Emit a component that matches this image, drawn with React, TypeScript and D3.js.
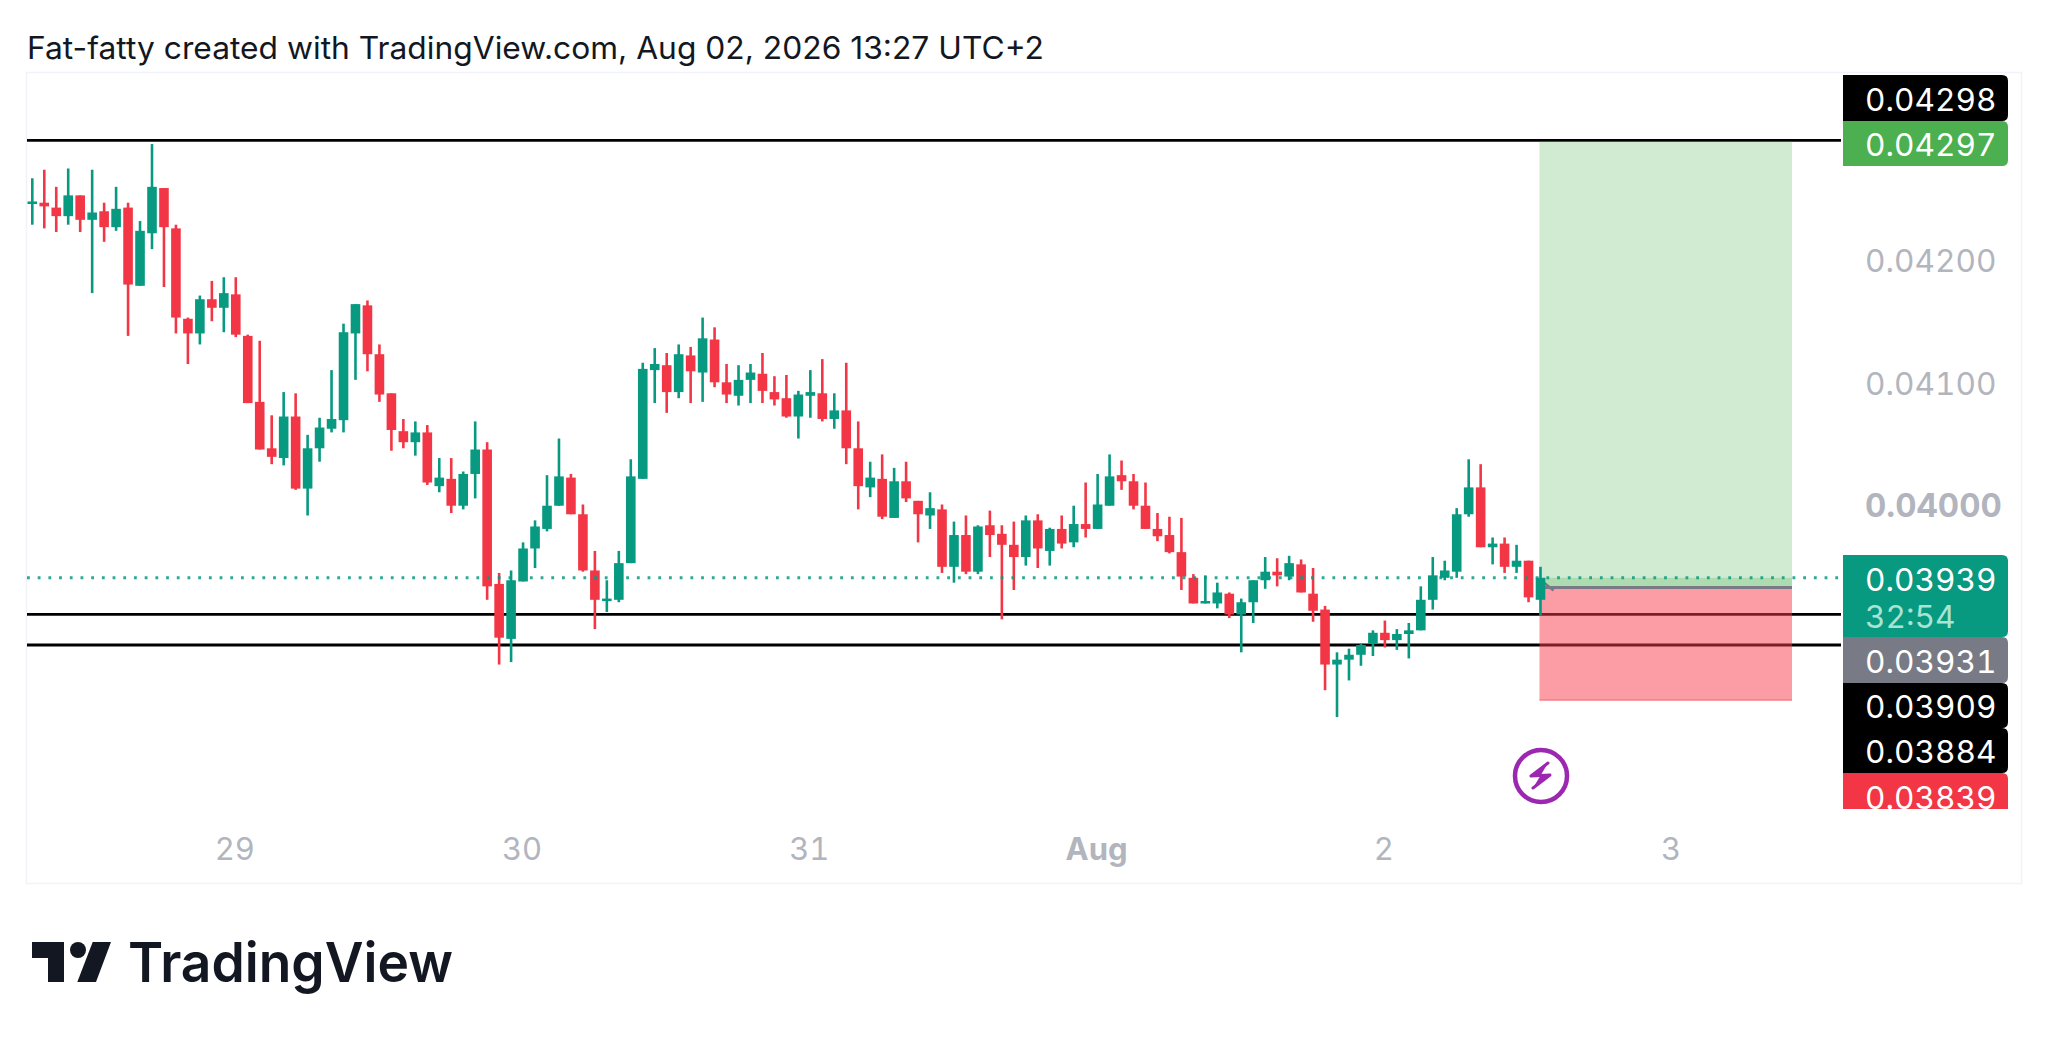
import { useMemo } from 'react';
import * as d3 from 'd3';

// all prices in 0.00001 units, one candle per hour
const opens = [
  4246, 4246, 4242, 4235, 4252, 4232, 4239, 4226, 4242, 4178, 4221, 4258, 4225, 4151, 4139, 4167, 4160, 4171, 4137, 4083,
  4045, 4037, 4071, 4012, 4045, 4061, 4068, 4139, 4162, 4122, 4090, 4059, 4050, 4058, 4014, 4020, 3998, 4024, 4044, 3934,
  3889, 3936, 3963, 3979, 3998, 4021, 3991, 3945, 3921, 3921, 3951, 4020, 4109, 4113, 4091, 4121, 4107, 4134, 4099, 4088,
  4101, 4106, 4091, 4086, 4071, 4088, 4090, 4069, 4076, 4045, 4013, 4020, 3988, 4018, 4002, 3990, 3995, 3948, 3974, 3944,
  3982, 3975, 3966, 3956, 3986, 3961, 3979, 3968, 3983, 3979, 3998, 4023, 4018, 3998, 3979, 3974, 3960, 3939, 3918, 3918,
  3926, 3909, 3919, 3937, 3944, 3940, 3950, 3926, 3913, 3868, 3872, 3876, 3885, 3894, 3888, 3893, 3896, 3921, 3939, 3944,
  3991, 4013, 3964, 3967, 3948, 3953, 3921,
];
const closes = [
  4247, 4243, 4235, 4252, 4232, 4238, 4226, 4241, 4179, 4223, 4259, 4226, 4152, 4139, 4167, 4160, 4172, 4138, 4082, 4044,
  4038, 4071, 4012, 4045, 4062, 4069, 4140, 4163, 4122, 4089, 4060, 4050, 4058, 4017, 4021, 3998, 4024, 4044, 3932, 3890,
  3937, 3963, 3981, 3998, 4022, 3991, 3945, 3921, 3922, 3951, 4022, 4110, 4114, 4091, 4122, 4108, 4135, 4099, 4089, 4101,
  4107, 4092, 4085, 4071, 4089, 4091, 4069, 4076, 4045, 4014, 4021, 3989, 4018, 4004, 3991, 3996, 3948, 3974, 3944, 3981,
  3974, 3966, 3956, 3986, 3963, 3979, 3967, 3983, 3979, 3999, 4022, 4018, 3998, 3979, 3973, 3960, 3940, 3918, 3920, 3927,
  3909, 3919, 3937, 3944, 3941, 3951, 3927, 3912, 3868, 3872, 3876, 3884, 3894, 3888, 3893, 3896, 3921, 3941, 3945, 3991,
  4013, 3964, 3967, 3948, 3953, 3923, 3939,
];
const highs = [
  4266, 4273, 4259, 4274, 4252, 4273, 4246, 4259, 4246, 4231, 4294, 4258, 4228, 4152, 4170, 4182, 4185, 4185, 4138, 4133,
  4072, 4091, 4090, 4056, 4070, 4109, 4147, 4163, 4166, 4130, 4090, 4069, 4067, 4064, 4037, 4037, 4026, 4067, 4050, 3943,
  3945, 3968, 3986, 4023, 4053, 4024, 3999, 3961, 3937, 3961, 4036, 4115, 4127, 4123, 4130, 4128, 4152, 4144, 4114, 4113,
  4114, 4123, 4104, 4105, 4092, 4109, 4118, 4090, 4115, 4067, 4034, 4040, 4029, 4034, 4002, 4009, 3999, 3985, 3990, 3982,
  3994, 3982, 3985, 3990, 3991, 3980, 3990, 3998, 4017, 4024, 4040, 4035, 4024, 4017, 3992, 3989, 3988, 3942, 3941, 3935,
  3927, 3922, 3937, 3956, 3955, 3957, 3954, 3947, 3916, 3878, 3881, 3885, 3896, 3904, 3897, 3902, 3932, 3956, 3953, 3996,
  4036, 4032, 3972, 3972, 3966, 3953, 3948,
];
const lows = [
  4228, 4225, 4222, 4228, 4222, 4172, 4214, 4223, 4137, 4178, 4208, 4177, 4139, 4114, 4130, 4149, 4140, 4136, 4082, 4044,
  4032, 4031, 4011, 3990, 4034, 4058, 4058, 4101, 4108, 4083, 4043, 4045, 4039, 4015, 4009, 3992, 3995, 4004, 3921, 3868,
  3870, 3936, 3947, 3977, 3998, 3991, 3944, 3897, 3911, 3919, 3951, 4020, 4082, 4074, 4086, 4082, 4083, 4095, 4082, 4080,
  4082, 4082, 4080, 4070, 4053, 4070, 4067, 4061, 4032, 3995, 4005, 3987, 3988, 4001, 3968, 3979, 3943, 3935, 3942, 3942,
  3956, 3905, 3929, 3949, 3947, 3949, 3963, 3964, 3972, 3979, 3998, 4011, 3995, 3979, 3969, 3959, 3929, 3918, 3918, 3914,
  3906, 3878, 3902, 3930, 3932, 3937, 3927, 3903, 3847, 3825, 3855, 3867, 3875, 3882, 3880, 3873, 3896, 3913, 3937, 3939,
  3989, 3964, 3950, 3943, 3943, 3919, 3908,
];

const priceTicks = [4200, 4100, 4000];
const timeTicks: [number, string][] = [[17, '29'], [41, '30'], [65, '31'], [89, 'Aug'], [113, '2'], [137, '3']];
const levels = [4297, 3909, 3884];

const targetPrice = 4297;
const entryPrice = 3931;
const stopPrice = 3839;
const lastPrice = 3939;

const GREEN = '#089981';
const RED = '#f23645';
const AXIS = '#b2b5be';
const FONT = 'Inter, "Noto Sans", sans-serif';
const TAG_SIZE = 31.6;
const TABULAR = { fontVariantNumeric: 'tabular-nums' };

// y is fitted on the two levels drawn furthest apart
const y = d3.scaleLinear().domain([4297, 3884]).range([140.4, 645]);
const x = d3.scaleLinear().domain([0, 126]).range([32.3, 1540.5]);

function PriceTag(props: { top: number; bottom: number; fill: string; label: string; sub?: string }) {
  const { top, bottom, fill, label, sub } = props;
  const l = 1843;
  const r = 2008;
  const rad = 6;
  const d = `M${l},${top}H${r - rad}Q${r},${top} ${r},${top + rad}V${bottom - rad}Q${r},${bottom} ${r - rad},${bottom}H${l}Z`;
  const mid = sub ? top + 24 : (top + bottom) / 2 + 1;
  return (
    <g>
      <path d={d} fill={fill} />
      <text x={1865} y={mid} dominantBaseline="central" fontSize={TAG_SIZE} fill="#fff" fontFamily={FONT} style={TABULAR}>
        {label}
      </text>
      {sub && (
        <text x={1865} y={top + 61} dominantBaseline="central" fontSize={TAG_SIZE} fill="#a8e4d3" fontFamily={FONT} style={TABULAR}>
          {sub}
        </text>
      )}
    </g>
  );
}

export default function App() {
  const candles = useMemo(
    () => opens.map((o, i) => ({ i, o, c: closes[i], h: highs[i], l: lows[i], up: closes[i] >= o })),
    []
  );

  const zoneL = x(126) - 1;
  const zoneR = 1792;

  return (
    <svg
      width={2048}
      height={1043}
      style={{ position: 'absolute', left: 0, top: 0, background: '#fff' }}
    >
      <defs>
        <clipPath id="red-tag">
          <rect x={1843} y={773} width={165} height={36} />
        </clipPath>
      </defs>

      <text x={27} y={47} dominantBaseline="central" fontSize={31} fill="#131722" fontFamily={FONT} textLength={1017} lengthAdjust="spacingAndGlyphs">
        Fat-fatty created with TradingView.com, Aug 02, 2026 13:27 UTC+2
      </text>

      <rect x={26.5} y={72.5} width={1995} height={811} fill="#fff" stroke="#f0f3fa" strokeWidth={1.5} />

      {levels.map(p => (
        <line key={p} x1={27} x2={1841} y1={y(p)} y2={y(p)} stroke="#000" strokeWidth={2.8} />
      ))}

      {/* long position tool, translucent over the levels */}
      <rect x={zoneL} y={y(targetPrice) + 1} width={zoneR - zoneL} height={y(entryPrice) - y(targetPrice) - 1} fill="#4caf50" fillOpacity={0.26} />
      <rect x={zoneL} y={y(lastPrice)} width={zoneR - zoneL} height={y(entryPrice) - y(lastPrice)} fill="#4caf50" fillOpacity={0.25} />
      <rect x={zoneL} y={y(entryPrice)} width={zoneR - zoneL} height={y(stopPrice) - y(entryPrice)} fill="#fa3a4a" fillOpacity={0.5} />
      <line x1={zoneL} x2={zoneR} y1={y(entryPrice)} y2={y(entryPrice)} stroke="#787b86" strokeWidth={3} />
      <line x1={zoneL} x2={zoneR} y1={y(stopPrice)} y2={y(stopPrice)} stroke="#f77c86" strokeWidth={1.5} />
      <line x1={x(126)} x2={x(126) + 13} y1={y(lastPrice) + 2} y2={y(entryPrice) + 3} stroke="#787b86" strokeWidth={2.5} />

      {candles.map(d => {
        const col = d.up ? GREEN : RED;
        const top = y(Math.max(d.o, d.c));
        const bot = y(Math.min(d.o, d.c));
        return (
          <g key={d.i}>
            <line x1={x(d.i)} x2={x(d.i)} y1={y(d.h)} y2={y(d.l)} stroke={col} strokeWidth={2.6} />
            <rect x={x(d.i) - 4.8} y={top} width={9.6} height={Math.max(bot - top, 2.5)} fill={col} />
          </g>
        );
      })}

      <line x1={27} x2={1841} y1={y(lastPrice)} y2={y(lastPrice)} stroke={GREEN} strokeOpacity={0.85} strokeWidth={3} strokeDasharray="2.8 7.9" />

      {priceTicks.map(p => (
        <text
          key={p}
          x={1865}
          y={y(p) + 2}
          dominantBaseline="central"
          fontSize={p === 4000 ? 33 : TAG_SIZE}
          fontWeight={p === 4000 ? 700 : 400}
          fill={AXIS}
          fontFamily={FONT}
          style={TABULAR}
        >
          {d3.format('.5f')(p / 100000)}
        </text>
      ))}

      {timeTicks.map(([i, label]) => (
        <text
          key={label}
          x={x(i) - 1}
          y={848}
          textAnchor="middle"
          dominantBaseline="central"
          fontSize={31}
          fontWeight={label === 'Aug' ? 700 : 400}
          fill={AXIS}
          fontFamily={FONT}
          style={TABULAR}
        >
          {label}
        </text>
      ))}

      <PriceTag top={75} bottom={121} fill="#000" label="0.04298" />
      <PriceTag top={121} bottom={166} fill="#4caf50" label="0.04297" />
      <PriceTag top={555} bottom={637} fill={GREEN} label="0.03939" sub="32:54" />
      <PriceTag top={637} bottom={683} fill="#787b86" label="0.03931" />
      <PriceTag top={683} bottom={728} fill="#000" label="0.03909" />
      <PriceTag top={728} bottom={773} fill="#000" label="0.03884" />
      <g clipPath="url(#red-tag)">
        <PriceTag top={773} bottom={819} fill={RED} label="0.03839" />
      </g>

      {/* alert icon */}
      <circle cx={1541} cy={776} r={26} fill="none" stroke="#9c27b0" strokeWidth={4.5} />
      <path
        d="M1548,763 L1531,776 L1550,775 L1533,788"
        fill="#9c27b0"
        stroke="#9c27b0"
        strokeWidth={3}
        strokeLinejoin="round"
        strokeLinecap="round"
      />

      {/* TradingView logo */}
      <path d="M32,942H64V982H48V958H32Z" fill="#131722" />
      <circle cx={78} cy={950} r={8} fill="#131722" />
      <path d="M92.7,942H111L96,982H77.3Z" fill="#131722" />
      <text x={128} y={982} fontSize={55} fontWeight={600} fill="#131722" fontFamily={FONT} textLength={325} lengthAdjust="spacingAndGlyphs">
        TradingView
      </text>
    </svg>
  );
}
